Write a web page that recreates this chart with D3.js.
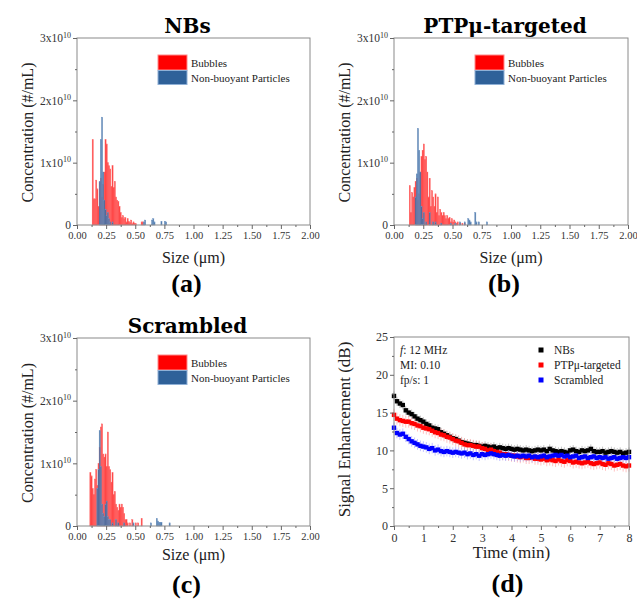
<!DOCTYPE html>
<html><head><meta charset="utf-8">
<script src="https://cdn.jsdelivr.net/npm/d3@7/dist/d3.min.js"></script>
<style>body{margin:0;background:#fff}svg{display:block}</style>
</head><body>
<svg id="chart" width="637" height="599"></svg>
<script>
// ---------- DATA ----------
// size bins (µm), bin width 0.01
const SIZES = [0.11,0.12,0.13,0.14,0.15,0.16,0.17,0.18,0.19,0.20,
               0.21,0.22,0.23,0.24,0.25,0.26,0.27,0.28,0.29,0.30,
               0.31,0.32,0.33,0.34,0.35,0.36,0.37,0.38,0.39,0.40,
               0.41,0.42,0.43,0.44,0.45,0.46,0.47,0.48,0.49,0.50,
               0.51,0.52,0.53,0.54,0.55,0.56,0.57,0.58,0.59,0.60,
               0.61,0.62,0.63,0.64,0.65,0.66,0.67,0.68,0.69,0.70,
               0.71,0.72,0.73,0.74,0.75,0.76,0.77,0.78,0.79,0.80];
// concentrations in units of 1x10^10 #/mL
const NBS_BUBBLES = [0,0,1.37,0.42,0.42,0.72,0.58,0.30,0.68,0.75,
  0.45,0.65,0.85,1.37,1.30,1.00,0.95,0.90,0.62,0.95,
  0.60,0.70,0.45,0.40,0.38,0.30,0.20,0.12,0.15,0.10,
  0.12,0.05,0.10,0.06,0.04,0.08,0.02,0.05,0.03,0.02,
  0,0,0,0,0.05,0.05,0,0,0,0,
  0,0,0,0,0,0,0,0,0,0,
  0,0,0,0,0,0,0,0,0,0];
const NBS_NONBUOYANT = [0,0,0,0,0,0,0,0,0.70,1.37,
  1.73,0.85,0.40,0.25,0.15,0.20,0.10,0.05,0,0.05,
  0,0,0,0,0,0,0,0,0,0,
  0,0,0,0,0,0,0,0,0,0,
  0,0,0,0,0,0,0.05,0.08,0,0,
  0,0,0,0.08,0.10,0.05,0,0,0,0,
  0,0.06,0,0,0.06,0.05,0,0,0,0];
const PTP_BUBBLES = [0,0,0.63,0.20,0.52,0.45,0.60,0.70,0.75,0.40,
  0.50,0.85,1.10,1.20,1.30,1.05,1.10,0.85,0.45,0.75,
  0.30,0.55,0.45,0.30,0.50,0.20,0.45,0.15,0.25,0.20,
  0.15,0.20,0.15,0.10,0.15,0.10,0.12,0.05,0.10,0.05,
  0.08,0.05,0.03,0.05,0,0.03,0,0.03,0,0.02,
  0,0,0,0,0,0,0,0,0,0,
  0,0,0,0,0,0,0,0,0,0];
const PTP_NONBUOYANT = [0,0,0,0,0,0,0,0.45,0.82,1.55,
  1.20,0.85,0.30,0.10,0.20,0,0.05,0,0,0.20,
  0,0,0.05,0,0.05,0,0,0,0,0.03,
  0,0,0,0,0,0,0,0.03,0,0,
  0,0.03,0,0,0,0.05,0,0,0,0.05,
  0,0,0.10,0.08,0.05,0,0,0,0.20,0.05,
  0,0.05,0,0,0,0,0,0,0.05,0];
const SCR_BUBBLES = [0.85,0.80,0.60,0.50,0.75,0.90,0.65,1.00,1.25,1.58,
  1.63,1.15,1.10,1.15,0.95,1.50,0.95,0.90,0.70,0.85,
  0.50,0.55,0.35,0.30,0.25,0.35,0.30,0.35,0.30,0.20,
  0.10,0.10,0.05,0,0.05,0,0.10,0,0,0.05,
  0,0.05,0,0,0.12,0,0,0,0,0,
  0,0,0,0,0,0,0,0,0,0,
  0,0,0,0,0,0,0,0,0,0];
const SCR_NONBUOYANT = [0,0,0,0,0,0,0.60,0.90,1.52,0.95,
  0.35,0.20,0.15,0.35,0.40,0.15,0.10,0.10,0,0.05,
  0,0,0.10,0,0.05,0,0,0,0,0.05,
  0,0,0,0,0,0,0,0.05,0,0,
  0,0,0,0,0,0,0,0,0,0,
  0,0,0.05,0,0,0,0,0.12,0.08,0.06,
  0.06,0.06,0,0,0,0,0,0,0.05,0];
const SIZE_TICKS = [0,0.25,0.5,0.75,1,1.25,1.5,1.75,2];
const CONC_TICKS = [0,1,2,3];

// time series (min) and signal enhancement (dB)
const TIME = [0,0.1,0.2,0.3,0.4,0.5,0.6,0.7,0.8,0.9,1.0,1.1,1.2,1.3,1.4,1.5,1.6,1.7,1.8,1.9,
  2.0,2.1,2.2,2.3,2.4,2.5,2.6,2.7,2.8,2.9,3.0,3.1,3.2,3.3,3.4,3.5,3.6,3.7,3.8,3.9,
  4.0,4.1,4.2,4.3,4.4,4.5,4.6,4.7,4.8,4.9,5.0,5.1,5.2,5.3,5.4,5.5,5.6,5.7,5.8,5.9,
  6.0,6.1,6.2,6.3,6.4,6.5,6.6,6.7,6.8,6.9,7.0,7.1,7.2,7.3,7.4,7.5,7.6,7.7,7.8,7.9,8.0];
const SE_NBS = [17.2,16.5,16.2,16.0,15.3,15.0,14.8,14.5,14.2,14.0,13.8,13.5,13.3,13.0,12.9,12.8,12.4,12.2,12.0,11.8,
  11.6,11.5,11.3,11.1,11.0,10.9,10.8,10.7,10.7,10.6,10.5,10.6,10.5,10.4,10.5,10.3,10.4,10.3,10.2,10.3,
  10.2,10.1,10.2,10.1,10.0,10.1,10.0,9.9,10.0,10.1,10.0,10.1,9.9,10.2,10.0,9.9,9.8,9.9,9.8,9.7,
  10.0,10.1,9.9,9.8,10.0,9.9,10.0,10.2,9.9,9.8,9.8,9.9,9.7,9.8,9.9,9.8,9.7,9.8,9.6,9.7,9.8];
const SE_PTP = [14.7,14.2,14.0,13.9,13.8,13.8,13.6,13.5,13.3,13.2,13.0,12.9,12.8,12.6,12.4,12.3,12.1,12.0,11.8,11.7,
  11.5,11.3,11.2,11.0,10.8,10.7,10.7,10.6,10.5,10.5,10.3,10.2,10.0,10.1,9.9,9.8,9.7,9.5,9.5,9.4,
  9.3,9.3,9.2,9.1,9.2,9.0,9.0,9.1,8.9,8.9,8.8,8.9,8.7,8.8,8.7,8.6,8.8,8.6,8.5,8.7,
  8.6,8.4,8.5,8.4,8.3,8.4,8.5,8.3,8.2,8.3,8.4,8.2,8.1,8.3,8.2,8.0,8.1,8.2,8.0,7.9,8.0];
const SE_SCR = [13.0,12.3,12.1,12.2,11.8,11.5,11.2,11.0,10.8,10.6,10.5,10.4,10.2,10.3,10.0,10.1,9.9,9.8,9.9,9.8,
  9.7,9.8,9.7,9.6,9.7,9.5,9.6,9.4,9.5,9.3,9.5,9.4,9.5,9.6,9.5,9.4,9.3,9.4,9.3,9.4,
  9.3,9.2,9.3,9.2,9.3,9.2,9.3,9.1,9.2,9.1,9.2,9.3,9.1,9.2,9.3,9.4,9.3,9.4,9.2,9.3,
  9.1,9.2,9.3,9.0,9.1,9.2,9.0,9.1,9.2,9.0,9.1,9.0,9.1,8.9,9.0,9.1,8.9,9.0,9.1,9.0,9.1];
const ERR_NBS = 0.6, ERR_PTP = 0.8, ERR_SCR = 0.7;
const TIME_TICKS = [0,1,2,3,4,5,6,7,8];
const SE_TICKS = [0,5,10,15,20,25];
const SERIES_NAMES = ["NBs","PTPμ-targeted","Scrambled"];
const HIST_LEGEND = ["Bubbles","Non-buoyant Particles"];

// ---------- DRAW ----------
const svg = d3.select("#chart");
const SERIF = "'Liberation Serif', 'Times New Roman', serif";
const TITLE_FONT = "'DejaVu Serif', serif";
const RED = "#ff0000", BLUE = "#2f6199";

function frame(g, L, R, T, B){
  g.append("rect").attr("x",L).attr("y",T).attr("width",R-L).attr("height",B-T)
    .attr("fill","none").attr("stroke","#8a8a8a").attr("stroke-width",1);
}
function styleAxis(sel, size){
  sel.select(".domain").remove();
  sel.selectAll(".tick line").attr("stroke","#666");
  sel.selectAll(".tick text").attr("font-family",SERIF).attr("font-size",size).attr("fill","#333");
}

const hists = [
  {title:"NBs", tag:"(a)", L:77, R:310, T:38, B:225, red:NBS_BUBBLES, blue:NBS_NONBUOYANT, xlabY:263, tagY:292},
  {title:"PTPμ-targeted", tag:"(b)", L:394, R:628, T:38, B:225, red:PTP_BUBBLES, blue:PTP_NONBUOYANT, xlabY:263, tagY:292},
  {title:"Scrambled", tag:"(c)", L:77, R:310, T:338, B:526, red:SCR_BUBBLES, blue:SCR_NONBUOYANT, xlabY:560, tagY:593}
];

hists.forEach(p => {
  const g = svg.append("g");
  const x = d3.scaleLinear().domain([0,2]).range([p.L,p.R]);
  const y = d3.scaleLinear().domain([0,3]).range([p.B,p.T]);
  const cx = (p.L+p.R)/2;
  // bars
  const bw = x(0.01)-x(0);
  g.append("g").selectAll("rect").data(SIZES.map((s,i)=>({s,v:p.red[i]})).filter(d=>d.v>0))
    .join("rect").attr("x",d=>x(d.s)).attr("width",bw).attr("y",d=>y(d.v)).attr("height",d=>y(0)-y(d.v))
    .attr("fill",RED).attr("fill-opacity",0.75).attr("stroke","#ff6b6b").attr("stroke-width",0.4);
  g.append("g").selectAll("rect").data(SIZES.map((s,i)=>({s,v:p.blue[i]})).filter(d=>d.v>0))
    .join("rect").attr("x",d=>x(d.s)).attr("width",bw).attr("y",d=>y(d.v)).attr("height",d=>y(0)-y(d.v))
    .attr("fill",BLUE).attr("fill-opacity",0.85).attr("stroke","#6f95c4").attr("stroke-width",0.4);
  frame(g,p.L,p.R,p.T,p.B);
  // axes
  const xa = g.append("g").attr("transform",`translate(0,${p.B})`)
    .call(d3.axisBottom(x).tickValues(SIZE_TICKS).tickSize(4).tickSizeOuter(0).tickPadding(3).tickFormat(d3.format(".2f")));
  styleAxis(xa,10.5);
  const xm = g.append("g").attr("transform",`translate(0,${p.B})`)
    .call(d3.axisBottom(x).tickValues(d3.range(0.125,2,0.25)).tickSize(2).tickFormat(""));
  styleAxis(xm,10);
  const ya = g.append("g").attr("transform",`translate(${p.L},0)`)
    .call(d3.axisLeft(y).tickValues(CONC_TICKS).tickSize(4).tickSizeOuter(0).tickPadding(2).tickFormat(""));
  styleAxis(ya,10);
  ya.selectAll(".tick").each(function(d){
    const t = d3.select(this).append("text").attr("x",-6).attr("dy","0.32em").attr("text-anchor","end")
      .attr("font-family",SERIF).attr("font-size",11.5).attr("fill","#333");
    if(d===0){ t.text("0"); }
    else { t.append("tspan").text(d+"x10"); t.append("tspan").attr("font-size",8).attr("dy",-4.5).text("10"); }
  });
  const ym = g.append("g").attr("transform",`translate(${p.L},0)`)
    .call(d3.axisLeft(y).tickValues([0.5,1.5,2.5]).tickSize(2).tickFormat(""));
  styleAxis(ym,10);
  // labels
  g.append("text").attr("x",p.L-50).attr("y",(p.T+p.B)/2+1).attr("transform",`rotate(-90,${p.L-50},${(p.T+p.B)/2+1})`)
    .attr("text-anchor","middle").attr("dy","0.35em").attr("font-family",SERIF).attr("font-size",16).attr("fill","#222")
    .text("Concentration (#/mL)");
  g.append("text").attr("x",cx).attr("y",p.xlabY).attr("text-anchor","middle")
    .attr("font-family",SERIF).attr("font-size",16).attr("fill","#222").text("Size (μm)");
  g.append("text").attr("x",cx-6).attr("y",p.T-5).attr("text-anchor","middle")
    .attr("font-family",TITLE_FONT).attr("font-weight","bold").attr("font-size",20).attr("fill","#000").text(p.title);
  g.append("text").attr("x",cx-7).attr("y",p.tagY).attr("text-anchor","middle")
    .attr("font-family",SERIF).attr("font-weight","bold").attr("font-size",26).attr("fill","#000").text(p.tag);
  // legend
  const lx = p.L+81, ly = p.T+17;
  g.append("rect").attr("x",lx).attr("y",ly).attr("width",29).attr("height",15)
    .attr("fill",RED).attr("stroke","#ff8a8a").attr("stroke-width",1);
  g.append("rect").attr("x",lx).attr("y",ly+15.5).attr("width",29).attr("height",14)
    .attr("fill",BLUE).attr("stroke","#8fb0d6").attr("stroke-width",1);
  [0,1].forEach(i=>{
    g.append("text").attr("x",lx+33).attr("y",ly+11.5+i*15.5).attr("font-family",SERIF).attr("font-size",11)
      .attr("fill","#222").text(HIST_LEGEND[i]);
  });
});

// ---------- panel (d) ----------
{
  const L=394,R=629,T=337,B=526;
  const g = svg.append("g");
  const x = d3.scaleLinear().domain([0,8]).range([L,R]);
  const y = d3.scaleLinear().domain([0,25]).range([B,T]);
  const series = [
    {name:SERIES_NAMES[0], v:SE_NBS, err:ERR_NBS, c:"#000000", ec:"#999999"},
    {name:SERIES_NAMES[1], v:SE_PTP, err:ERR_PTP, c:"#ff0000", ec:"#ff9a9a"},
    {name:SERIES_NAMES[2], v:SE_SCR, err:ERR_SCR, c:"#0000ff", ec:"#9a9aff"}
  ];
  series.forEach(s=>{
    const d = TIME.map((t,i)=>({t,v:s.v[i]}));
    g.append("g").selectAll("line").data(d).join("line")
      .attr("x1",e=>x(e.t)).attr("x2",e=>x(e.t)).attr("y1",e=>y(e.v-s.err)).attr("y2",e=>y(e.v+s.err))
      .attr("stroke",s.ec).attr("stroke-width",1).attr("stroke-opacity",0.6);
  });
  series.forEach(s=>{
    const d = TIME.map((t,i)=>({t,v:s.v[i]}));
    g.append("g").selectAll("rect").data(d).join("rect")
      .attr("x",e=>x(e.t)-2.2).attr("y",e=>y(e.v)-2.2).attr("width",4.4).attr("height",4.4).attr("fill",s.c);
  });
  frame(g,L,R,T,B);
  const xa = g.append("g").attr("transform",`translate(0,${B})`)
    .call(d3.axisBottom(x).tickValues(TIME_TICKS).tickSize(4).tickSizeOuter(0).tickPadding(3).tickFormat(d3.format("d")));
  styleAxis(xa,12);
  const xm = g.append("g").attr("transform",`translate(0,${B})`)
    .call(d3.axisBottom(x).tickValues(d3.range(0.5,8,1)).tickSize(2).tickFormat(""));
  styleAxis(xm,12);
  const ya = g.append("g").attr("transform",`translate(${L},0)`)
    .call(d3.axisLeft(y).tickValues(SE_TICKS).tickSize(4).tickSizeOuter(0).tickPadding(2).tickFormat(d3.format("d")));
  styleAxis(ya,12);
  const ym = g.append("g").attr("transform",`translate(${L},0)`)
    .call(d3.axisLeft(y).tickValues(d3.range(2.5,25,5)).tickSize(2).tickFormat(""));
  styleAxis(ym,12);
  const ycx = 344, ycy = (T+B)/2-2;
  g.append("text").attr("x",ycx).attr("y",ycy).attr("transform",`rotate(-90,${ycx},${ycy})`)
    .attr("text-anchor","middle").attr("dy","0.35em").attr("font-family",SERIF).attr("font-size",17).attr("fill","#222")
    .text("Signal Enhancement (dB)");
  g.append("text").attr("x",(L+R)/2).attr("y",558).attr("text-anchor","middle")
    .attr("font-family",SERIF).attr("font-size",17).attr("fill","#222").text("Time (min)");
  g.append("text").attr("x",(L+R)/2-4).attr("y",592).attr("text-anchor","middle")
    .attr("font-family",SERIF).attr("font-weight","bold").attr("font-size",26).attr("fill","#000").text("(d)");
  // annotations
  const ann = g.append("g").attr("font-family",SERIF).attr("font-size",11.5).attr("fill","#222");
  const a1 = ann.append("text").attr("x",400).attr("y",354);
  a1.append("tspan").attr("font-style","italic").text("f");
  a1.append("tspan").text(": 12 MHz");
  ann.append("text").attr("x",400).attr("y",369).text("MI: 0.10");
  ann.append("text").attr("x",400).attr("y",384).text("fp/s: 1");
  // legend
  series.forEach((s,i)=>{
    const yy = 350+i*15;
    g.append("rect").attr("x",538.5).attr("y",yy-2.5).attr("width",5).attr("height",5).attr("fill",s.c);
    g.append("text").attr("x",554).attr("y",yy+4).attr("font-family",SERIF).attr("font-size",11.5).attr("fill","#222").text(s.name);
  });
}
</script>
</body></html>
